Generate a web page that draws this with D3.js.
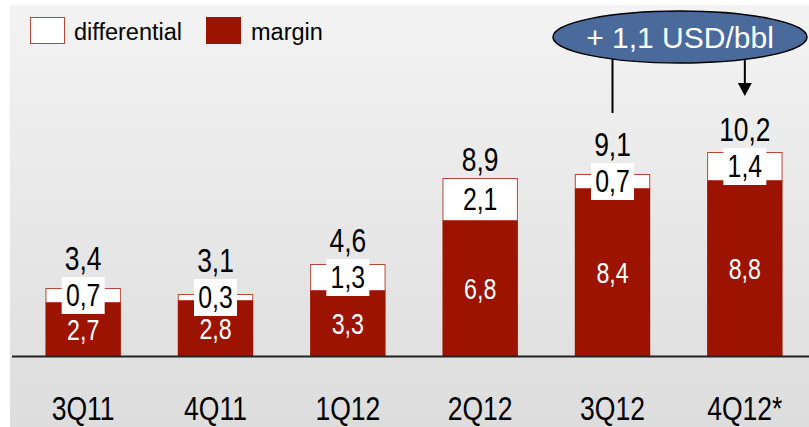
<!DOCTYPE html>
<html>
<head>
<meta charset="utf-8">
<script src="https://cdn.jsdelivr.net/npm/d3@7"></script>
<style>
  body { margin: 0; background: #fff; }
  svg { display: block; }
  text { font-family: "Liberation Sans", Arial, sans-serif; }
</style>
</head>
<body>
<svg width="809" height="427"></svg>
<script>
// data
var quarters = ["3Q11", "4Q11", "1Q12", "2Q12", "3Q12", "4Q12*"];
var margin = [2.7, 2.8, 3.3, 6.8, 8.4, 8.8];
var differential = [0.7, 0.3, 1.3, 2.1, 0.7, 1.4];
var totals = [3.4, 3.1, 4.6, 8.9, 9.1, 10.2];
var callout = "+ 1,1 USD/bbl";

var svg = d3.select("svg"),
    width = +svg.attr("width"),
    height = +svg.attr("height"),
    base = 356;

var fmt = function(v) { return d3.format(".1f")(v).replace(".", ","); };
// no narrow font installed, so squeeze the normal one
var narrow = function(px, py, s) {
    return "translate(" + px + "," + py + ") scale(" + (s || 0.8) + ",1)";
};

// background gradient
var grad = svg.append("defs").append("linearGradient")
    .attr("id", "bg").attr("x1", 0).attr("y1", 0).attr("x2", 0).attr("y2", 1);
grad.append("stop").attr("offset", "0%").attr("stop-color", "#f3f3f3");
grad.append("stop").attr("offset", "100%").attr("stop-color", "#dddddd");
svg.append("rect").attr("x", 10).attr("y", 5)
   .attr("width", width - 10).attr("height", height - 5)
   .attr("fill", "url(#bg)");

var x = d3.scaleBand().domain(quarters).range([17, 811])
    .paddingInner(0.43).paddingOuter(0.215);
var y = d3.scaleLinear().domain([0, 10]).range([base, base - 200]);
var cx = function(d) { return x(d.q) + x.bandwidth() / 2; };

var data = quarters.map(function(q, i) {
    return { q: q, m: margin[i], d: differential[i], t: totals[i] };
});

var g = svg.append("g");

// margin part
g.selectAll(".m").data(data).enter().append("rect")
   .attr("x", function(d) { return x(d.q); })
   .attr("y", function(d) { return y(d.m); })
   .attr("width", x.bandwidth())
   .attr("height", function(d) { return base - y(d.m); })
   .attr("fill", "#9c1400");

// differential part
g.selectAll(".d").data(data).enter().append("rect")
   .attr("x", function(d) { return x(d.q) + 0.5; })
   .attr("y", function(d) { return y(d.m + d.d) + 0.5; })
   .attr("width", x.bandwidth() - 1)
   .attr("height", function(d) { return y(d.m) - y(d.m + d.d); })
   .attr("fill", "#fff")
   .attr("stroke", "#b8473a").attr("stroke-width", 1);

// baseline
svg.append("line").attr("x1", 12).attr("x2", width)
   .attr("y1", base + 0.5).attr("y2", base + 0.5)
   .attr("stroke", "#222").attr("stroke-width", 2);

// differential labels with white box
var lab = g.selectAll(".dl").data(data).enter().append("g")
   .attr("transform", function(d) {
       var cy = (y(d.m) + y(d.m + d.d)) / 2;
       return "translate(" + cx(d) + "," + cy + ")";
   });
lab.append("rect").attr("x", -21.5).attr("y", -18).attr("width", 43).attr("height", 37)
   .attr("fill", "#fff");
lab.append("text")
   .attr("transform", narrow(0, 11))
   .attr("text-anchor", "middle")
   .style("font-size", "31px").attr("fill", "#000")
   .text(function(d) { return fmt(d.d); });

// margin labels
g.selectAll(".ml").data(data).enter().append("text")
   .attr("transform", function(d) { return narrow(cx(d), (base + y(d.m)) / 2 + 11); })
   .attr("text-anchor", "middle")
   .style("font-size", "29px").attr("fill", "#fff")
   .text(function(d) { return fmt(d.m); });

// total labels
g.selectAll(".tl").data(data).enter().append("text")
   .attr("transform", function(d) {
       var top = y(d.m + d.d);
       var box = (y(d.m) + top) / 2 - 18;
       return narrow(cx(d), Math.min(top, box) - 7);
   })
   .attr("text-anchor", "middle")
   .style("font-size", "33px").attr("fill", "#000")
   .text(function(d) { return fmt(d.t); });

// category labels
g.selectAll(".cl").data(data).enter().append("text")
   .attr("transform", function(d) { return narrow(cx(d), 420, 0.78); })
   .attr("text-anchor", "middle")
   .style("font-size", "34px").attr("fill", "#000")
   .text(function(d) { return d.q; });

// legend
var leg = svg.append("g").style("font-size", "23.5px");
leg.append("rect").attr("x", 30.5).attr("y", 17.5).attr("width", 34).attr("height", 26)
   .attr("fill", "#fff").attr("stroke", "#b8473a");
leg.append("text").attr("x", 74).attr("y", 40).text("differential");
leg.append("rect").attr("x", 206).attr("y", 17).attr("width", 35).attr("height", 27)
   .attr("fill", "#9c1400");
leg.append("text").attr("x", 251).attr("y", 40).text("margin");

// callout
var c3 = x("3Q12") + x.bandwidth() / 2,
    c4 = x("4Q12*") + x.bandwidth() / 2;
svg.append("line").attr("x1", c3).attr("x2", c3).attr("y1", 55).attr("y2", 113)
   .attr("stroke", "#000").attr("stroke-width", 2);
svg.append("line").attr("x1", c4).attr("x2", c4).attr("y1", 55).attr("y2", 84)
   .attr("stroke", "#000").attr("stroke-width", 2);
svg.append("path")
   .attr("d", "M" + (c4 - 7) + ",83 L" + (c4 + 7) + ",83 L" + c4 + ",96 Z")
   .attr("fill", "#000");
svg.append("ellipse").attr("cx", 680).attr("cy", 37).attr("rx", 127).attr("ry", 26)
   .attr("fill", "#4a6a9c").attr("stroke", "#000").attr("stroke-width", 1.5);
svg.append("text").attr("x", 680).attr("y", 48).attr("text-anchor", "middle")
   .style("font-size", "30px")
   .attr("fill", "#fff").text(callout);
</script>
</body>
</html>
